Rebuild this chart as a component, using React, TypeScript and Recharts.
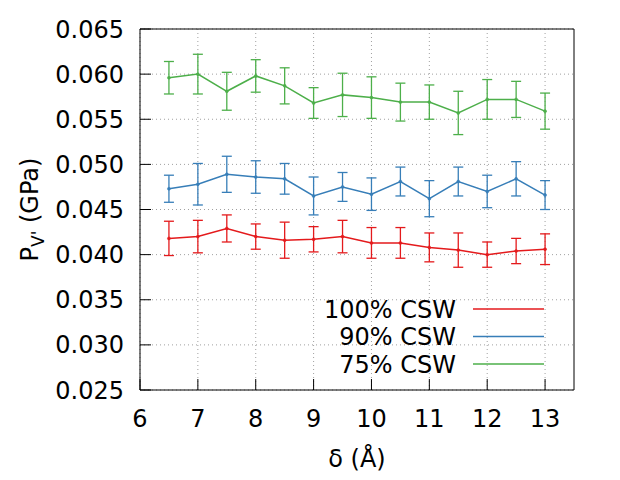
import React from "react";
import {
  ComposedChart,
  Line,
  XAxis,
  YAxis,
  CartesianGrid,
  ErrorBar,
  ReferenceArea,
  Legend,
  Label,
} from "recharts";

const delta = [6.5, 7, 7.5, 8, 8.5, 9, 9.5, 10, 10.5, 11, 11.5, 12, 12.5, 13];

const csw100 = [0.0418, 0.042, 0.0429, 0.042, 0.0416, 0.0417, 0.042, 0.0413, 0.0413, 0.0408, 0.0405, 0.0400, 0.0404, 0.0406];
const csw100Err = [0.0019, 0.0018, 0.0015, 0.0014, 0.0020, 0.0014, 0.0018, 0.0017, 0.0017, 0.0016, 0.0019, 0.0014, 0.0014, 0.0017];

const csw90 = [0.0473, 0.0478, 0.0489, 0.0486, 0.0484, 0.0465, 0.0475, 0.0467, 0.0481, 0.0462, 0.0481, 0.0470, 0.0484, 0.0466];
const csw90Err = [0.0015, 0.0023, 0.0020, 0.0018, 0.0017, 0.0021, 0.0016, 0.0018, 0.0016, 0.0020, 0.0016, 0.0018, 0.0019, 0.0016];

const csw75 = [0.0596, 0.0600, 0.0581, 0.0598, 0.0587, 0.0568, 0.0577, 0.0574, 0.0569, 0.0569, 0.0557, 0.0572, 0.0572, 0.0559];
const csw75Err = [0.0018, 0.0022, 0.0021, 0.0018, 0.0020, 0.0017, 0.0024, 0.0023, 0.0021, 0.0019, 0.0024, 0.0022, 0.0020, 0.0020];

const xTicks = [6, 7, 8, 9, 10, 11, 12, 13];
const yTicks = [0.025, 0.03, 0.035, 0.04, 0.045, 0.05, 0.055, 0.06, 0.065];

const seriesNames = ["100% CSW", "90% CSW", "75% CSW"];
const seriesColors = ["#e41a1c", "#377eb8", "#4daf4a"];

const data = delta.map((d, i) => ({
  delta: d,
  s100: csw100[i],
  e100: csw100Err[i],
  s90: csw90[i],
  e90: csw90Err[i],
  s75: csw75[i],
  e75: csw75Err[i],
}));

const series = [
  { key: "s100", err: "e100", name: seriesNames[0], color: seriesColors[0] },
  { key: "s90", err: "e90", name: seriesNames[1], color: seriesColors[1] },
  { key: "s75", err: "e75", name: seriesNames[2], color: seriesColors[2] },
];

const FONT = "'DejaVu Sans', sans-serif";
const FS = 24;

const LegendContent = () => (
  <svg width={260} height={90} style={{ overflow: "visible" }}>
    {series.map((s, i) => {
      const cy = 19 + i * 27.5;
      return (
        <g key={s.key}>
          <text
            x={156}
            y={cy + 8.8}
            textAnchor="end"
            fontFamily={FONT}
            fontSize={FS}
            fill="#000"
          >
            {s.name}
          </text>
          <line x1={173} x2={244} y1={cy} y2={cy} stroke={s.color} strokeWidth={1.5} />
        </g>
      );
    })}
  </svg>
);

const YLabel = (props: any) => {
  const vb = props.viewBox || { x: 0, y: 29, width: 140, height: 361 };
  const cx = vb.x + 38;
  const cy = vb.y + vb.height / 2;
  return (
    <text
      x={cx}
      y={cy}
      transform={`rotate(-90, ${cx}, ${cy})`}
      textAnchor="middle"
      fontFamily={FONT}
      fontSize={FS}
      fill="#000"
    >
      P
      <tspan fontSize={17} dy={6}>V'</tspan>
      <tspan dy={-6}> (GPa)</tspan>
    </text>
  );
};

export default function App() {
  return (
    <div style={{ position: "absolute", left: 0, top: 0, width: 620, height: 480, background: "#fff" }}>
      <ComposedChart
        width={620}
        height={480}
        data={data}
        margin={{ top: 29, right: 46, bottom: 0, left: 0 }}
      >
        <CartesianGrid
          stroke="#a0a0a0"
          strokeDasharray="1 3"
          strokeWidth={1}
          horizontalValues={yTicks}
          verticalValues={xTicks}
        />
        <XAxis
          dataKey="delta"
          type="number"
          domain={[6, 13.5]}
          ticks={xTicks}
          height={90}
          tickSize={-11}
          tickMargin={31}
          axisLine={false}
          tickLine={{ stroke: "#000", strokeWidth: 1 }}
          tick={{ fill: "#000", fontFamily: FONT, fontSize: FS }}
          allowDataOverflow
        >
          <Label
            value="δ (Å)"
            position="insideBottom"
            offset={13}
            style={{ fill: "#000", fontFamily: FONT, fontSize: FS }}
          />
        </XAxis>
        <YAxis
          type="number"
          domain={[0.025, 0.065]}
          ticks={yTicks}
          width={140}
          tickSize={-11}
          tickMargin={27}
          axisLine={false}
          tickLine={{ stroke: "#000", strokeWidth: 1 }}
          tick={{ fill: "#000", fontFamily: FONT, fontSize: FS }}
          tickFormatter={(v: number) => v.toFixed(3)}
          allowDataOverflow
        >
          <Label content={<YLabel />} position="insideLeft" />
        </YAxis>
        <ReferenceArea
          x1={6}
          x2={13.5}
          y1={0.025}
          y2={0.065}
          fill="none"
          fillOpacity={0}
          stroke="#000"
          strokeWidth={1}
          ifOverflow="visible"
        />
        {series.map((s) => (
          <Line
            key={s.key}
            dataKey={s.key}
            name={s.name}
            stroke={s.color}
            strokeWidth={1.5}
            dot={{ r: 1.5, fill: s.color, stroke: s.color, strokeWidth: 0.5 }}
            isAnimationActive={false}
          >
            <ErrorBar
              dataKey={s.err}
              width={5}
              stroke={s.color}
              strokeWidth={1.3}
              direction="y"
              isAnimationActive={false}
            />
          </Line>
        ))}
        <Legend
          layout="vertical"
          verticalAlign="middle"
          align="center"
          content={<LegendContent />}
          wrapperStyle={{ position: "absolute", left: 300, top: 290, width: 260, height: 90 }}
        />
      </ComposedChart>
    </div>
  );
}
